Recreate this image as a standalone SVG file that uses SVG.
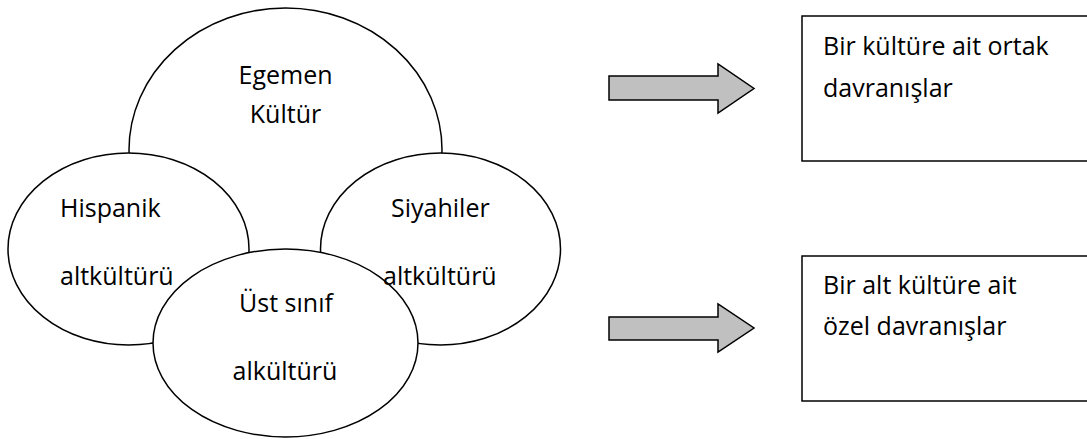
<svg xmlns="http://www.w3.org/2000/svg" width="1087" height="439" viewBox="0 0 1087 439">
  <style>
    .shape { fill: #ffffff; stroke: #000000; stroke-width: 1.5; }
    .arrow { fill: #c0c0c0; stroke: #000000; stroke-width: 1.5; stroke-linejoin: miter; }
    .label { font-family: "Open Sans", "Noto Sans", sans-serif; font-size: 25px; fill: #000000; }
    .mid { text-anchor: middle; }
  </style>
  <rect width="1087" height="439" fill="#ffffff"/>

  <!-- dominant culture (drawn first, lower part covered by subcultures) -->
  <g id="egemen">
    <ellipse class="shape" cx="285.5" cy="150" rx="156.5" ry="142"/>
  </g>
  <g id="hispanik">
    <ellipse class="shape" cx="128.5" cy="249" rx="120.5" ry="96"/>
  </g>
  <g id="siyahiler">
    <ellipse class="shape" cx="440.5" cy="249" rx="120" ry="96"/>
  </g>
  <g id="ust-sinif">
    <ellipse class="shape" cx="285.5" cy="343" rx="132.5" ry="94"/>
  </g>

  <!-- labels sit above all ellipses -->
  <g id="labels">
    <text class="label mid" x="285.5" y="84">Egemen</text>
    <text class="label mid" x="285.5" y="123">Kültür</text>
    <text class="label" x="60" y="217">Hispanik</text>
    <text class="label" x="60" y="285">altkültürü</text>
    <text class="label" x="391" y="217">Siyahiler</text>
    <text class="label" x="383" y="285">altkültürü</text>
    <text class="label mid" x="286" y="312">Üst sınıf</text>
    <text class="label mid" x="285" y="380">alkültürü</text>
  </g>

  <g id="connectors">
    <path class="arrow" d="M609,76 H718 V64 L754,88.5 L718,113 V100 H609 Z"/>
    <path class="arrow" d="M609,317 H718 V304 L754,328 L718,352 V340 H609 Z"/>
  </g>

  <g id="ortak">
    <rect class="shape" x="802" y="16" width="300" height="145"/>
    <text class="label" x="823" y="55">Bir kültüre ait ortak</text>
    <text class="label" x="823" y="97">davranışlar</text>
  </g>
  <g id="ozel">
    <rect class="shape" x="802" y="256" width="300" height="145"/>
    <text class="label" x="823" y="294">Bir alt kültüre ait</text>
    <text class="label" x="823" y="335">özel davranışlar</text>
  </g>
</svg>
